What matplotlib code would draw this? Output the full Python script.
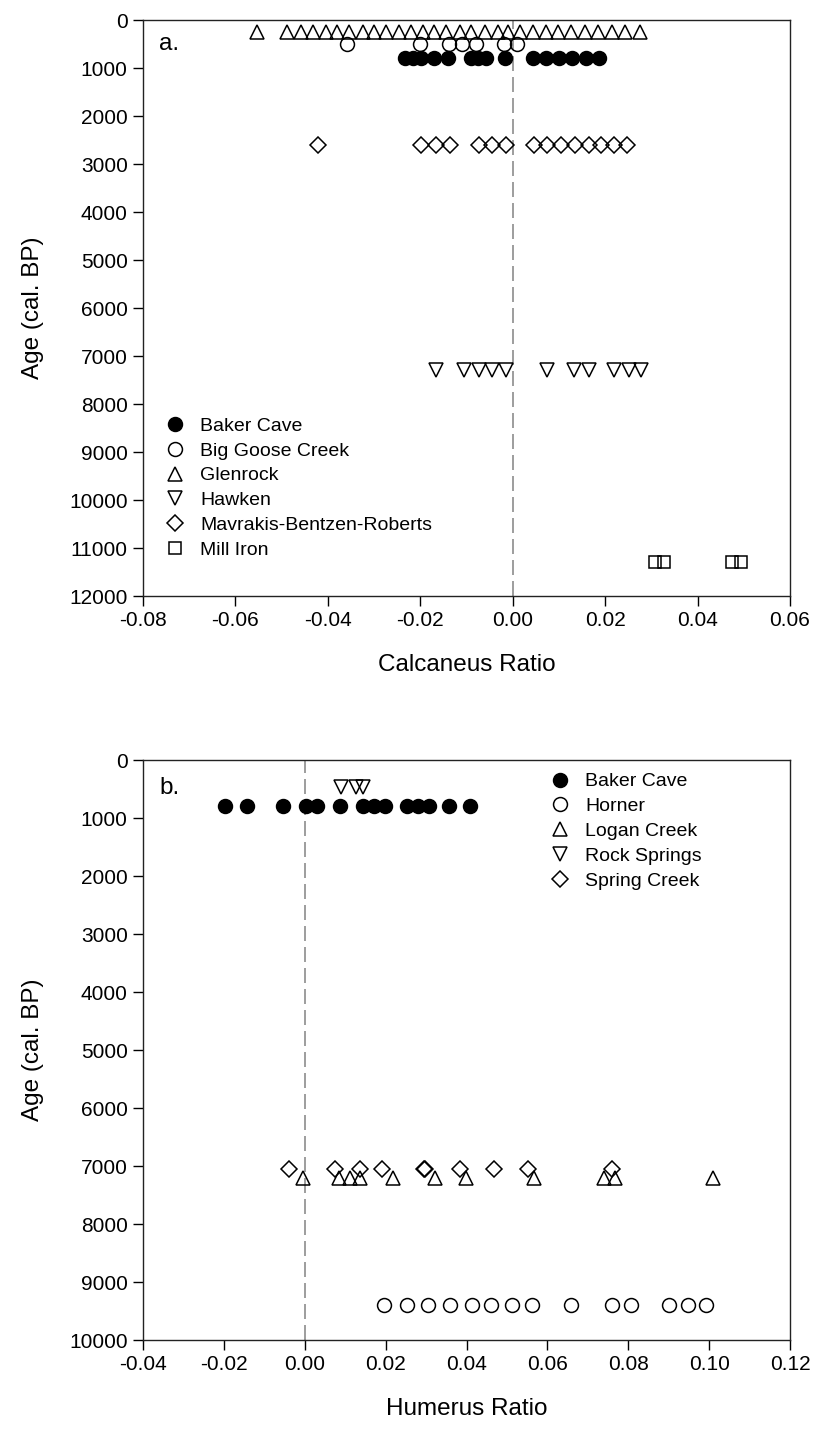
import matplotlib
matplotlib.use("Agg")
import matplotlib.pyplot as plt
from matplotlib.ticker import FormatStrFormatter

plt.rcParams['font.family'] = ['Liberation Sans', 'DejaVu Sans']

# ---------------- Panel a: Calcaneus ratio ----------------
baker_a_x = [-0.0232, -0.0215, -0.0198, -0.0170, -0.0140, -0.0091, -0.0075, -0.0058,
             -0.0017, 0.0043, 0.0071, 0.0100, 0.0129, 0.0158, 0.0187]
baker_a_age = 800
biggoose_x = [-0.0359, -0.0201, -0.0138, -0.0109, -0.0080, -0.0019, 0.0010]
biggoose_age = 500
glenrock_x = [-0.0554, -0.0488, -0.0459, -0.0432, -0.0405, -0.0380, -0.0354, -0.0325,
              -0.0300, -0.0275, -0.0246, -0.0220, -0.0195, -0.0170, -0.0144, -0.0115,
              -0.0090, -0.0061, -0.0032, -0.0011, 0.0015, 0.0044, 0.0073, 0.0098,
              0.0127, 0.0156, 0.0185, 0.0214, 0.0243, 0.0275]
glenrock_age = 250
hawken_x = [-0.0166, -0.0106, -0.0074, -0.0044, -0.0015, 0.0074, 0.0132, 0.0164,
            0.0219, 0.0251, 0.0278]
hawken_age = 7300
mavrakis_x = [-0.0422, -0.0198, -0.0166, -0.0135, -0.0074, -0.0044, -0.0015, 0.0045,
              0.0074, 0.0104, 0.0134, 0.0164, 0.0191, 0.0219, 0.0248]
mavrakis_age = 2600
milliron_x = [0.0307, 0.0327, 0.0474, 0.0494]
milliron_age = 11300

# ---------------- Panel b: Humerus ratio ----------------
baker_b_x = [-0.0198, -0.0144, -0.0053, 0.0002, 0.0031, 0.0087, 0.0143, 0.0172,
             0.0199, 0.0252, 0.0281, 0.0308, 0.0357, 0.0409]
baker_b_age = 800
horner_x = [0.0197, 0.0252, 0.0304, 0.0359, 0.0414, 0.0461, 0.0513, 0.0563, 0.0659,
            0.0759, 0.0806, 0.0900, 0.0947, 0.0992]
horner_age = 9400
logan_x = [-0.0004, 0.0085, 0.0113, 0.0137, 0.0218, 0.0322, 0.0398, 0.0568, 0.0740,
           0.0767, 0.1009]
logan_age = 7200
rocksprings_x = [0.0089, 0.0127, 0.0143]
rocksprings_age = 470
springcreek_x = [-0.0039, 0.0076, 0.0137, 0.0191, 0.0294, 0.0298, 0.0384, 0.0469,
                 0.0552, 0.0759]
springcreek_age = 7050

xticks_a = [-0.08, -0.06, -0.04, -0.02, 0.00, 0.02, 0.04, 0.06]
yticks_a = list(range(0, 12001, 1000))
xticks_b = [-0.04, -0.02, 0.00, 0.02, 0.04, 0.06, 0.08, 0.10, 0.12]
yticks_b = list(range(0, 10001, 1000))

W, H = 814, 1430
fig = plt.figure(figsize=(W / 100, H / 100), dpi=100)

def fr(l, t, r, b):
    return [l / W, 1 - b / H, (r - l) / W, (b - t) / H]

ax1 = fig.add_axes(fr(143, 20, 790, 596))
ax2 = fig.add_axes(fr(143, 760, 790, 1340))

TICK_FS = 15
LAB_FS = 17.5
LEG_FS = 14
MS = 10
MEW = 1.1

def style(ax, xt, yt, xlabel):
    ax.set_xticks(xt)
    ax.set_yticks(yt)
    ax.set_xlim(xt[0], xt[-1])
    ax.set_ylim(yt[-1], yt[0])
    ax.xaxis.set_major_formatter(FormatStrFormatter('%.2f'))
    ax.tick_params(direction='out', length=7, width=1, pad=4, labelsize=TICK_FS,
                   top=False, right=False, colors='black')
    for s in ax.spines.values():
        s.set_linewidth(1.0)
        s.set_color('#222222')
    ax.set_xlabel(xlabel, fontsize=LAB_FS, labelpad=17)
    ax.set_ylabel('Age (cal. BP)', fontsize=LAB_FS, labelpad=18)
    ax.axvline(0, color='#8c8c8c', lw=1.2, ls=(0, (9, 3.6)), zorder=1)

def pts(ax, xs, age, marker, filled, label, ms=MS):
    ax.plot(xs, [age] * len(xs), ls='none', marker=marker, ms=ms,
            mfc='black' if filled else 'none', mec='black', mew=MEW,
            label=label, zorder=3, clip_on=False)

pts(ax1, baker_a_x, baker_a_age, 'o', True, 'Baker Cave')
pts(ax1, biggoose_x, biggoose_age, 'o', False, 'Big Goose Creek')
pts(ax1, glenrock_x, glenrock_age, '^', False, 'Glenrock')
pts(ax1, hawken_x, hawken_age, 'v', False, 'Hawken')
pts(ax1, mavrakis_x, mavrakis_age, 'D', False, 'Mavrakis-Bentzen-Roberts', ms=8.5)
pts(ax1, milliron_x, milliron_age, 's', False, 'Mill Iron', ms=9)
style(ax1, xticks_a, yticks_a, 'Calcaneus Ratio')
ax1.text(0.025, 0.978, 'a.', transform=ax1.transAxes, fontsize=LAB_FS, va='top')
ax1.legend(loc='lower left', bbox_to_anchor=(-0.008, 0.034), frameon=False,
           fontsize=LEG_FS, handletextpad=0.3, labelspacing=0.37, borderaxespad=0.5)

pts(ax2, baker_b_x, baker_b_age, 'o', True, 'Baker Cave')
pts(ax2, horner_x, horner_age, 'o', False, 'Horner')
pts(ax2, logan_x, logan_age, '^', False, 'Logan Creek')
pts(ax2, rocksprings_x, rocksprings_age, 'v', False, 'Rock Springs')
pts(ax2, springcreek_x, springcreek_age, 'D', False, 'Spring Creek', ms=8.5)
style(ax2, xticks_b, yticks_b, 'Humerus Ratio')
ax2.text(0.025, 0.97, 'b.', transform=ax2.transAxes, fontsize=LAB_FS, va='top')
ax2.legend(loc='upper left', bbox_to_anchor=(0.587, 1.008), frameon=False,
           fontsize=LEG_FS, handletextpad=0.3, labelspacing=0.37, borderaxespad=0.5)

fig.savefig('out.png', dpi=100)
